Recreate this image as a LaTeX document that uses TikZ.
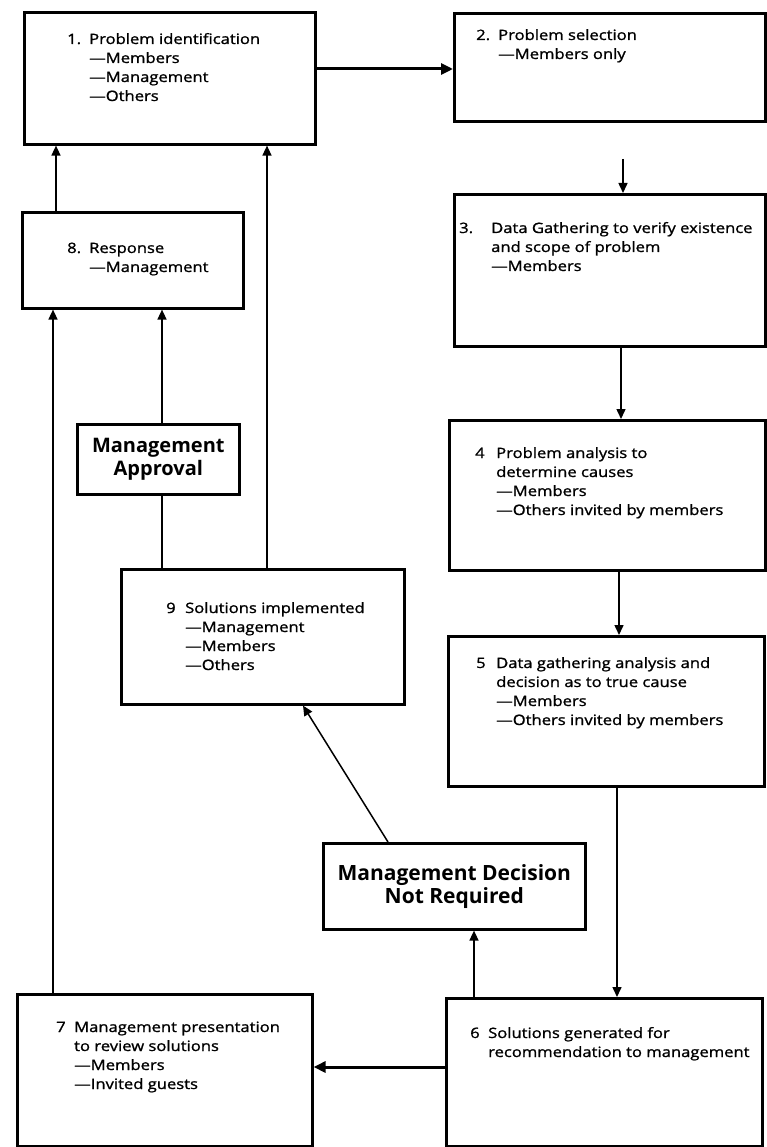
\documentclass[tikz,border=0pt]{standalone}
\usepackage{fontspec}
\setmainfont{Open Sans}
\newfontfamily\stepfont{Open Sans}[FakeBold=1.2, FakeStretch=1.16]
\usetikzlibrary{arrows.meta}
\tikzset{
  stepbox/.style={draw, line width=2.6pt, anchor=north west, inner sep=0pt},
  steptext/.style={anchor=base west, inner sep=0pt, font=\stepfont\fontsize{14.3}{19}\selectfont},
  decisionbox/.style={draw, line width=2.6pt, anchor=north west, inner sep=0pt,
    align=center, font=\bfseries\fontsize{20}{23}\selectfont},
  flow/.style={line width=1.5pt, -{Triangle[length=10pt,width=9pt]}},
  bigflow/.style={line width=3pt, -{Triangle[length=12pt,width=11pt]}},
  link/.style={line width=1.5pt}
}
\newcommand{\steplist}[2]{\begin{tabular}[t]{@{}p{#1}@{}l@{}}#2\end{tabular}}
\begin{document}
\begin{tikzpicture}[x=1pt,y=-1pt]
  \useasboundingbox (0,0) rectangle (766,1147);
  %% boxes
  \node[stepbox, minimum width=291pt, minimum height=132pt] (b1) at (23,11) {};
  \node[stepbox, minimum width=311pt, minimum height=108pt] (b2) at (453,12) {};
  \node[stepbox, minimum width=311pt, minimum height=152pt] (b3) at (453,193) {};
  \node[stepbox, minimum width=316pt, minimum height=150pt] (b4) at (448,419) {};
  \node[stepbox, minimum width=316pt, minimum height=150pt] (b5) at (447,635) {};
  \node[stepbox, minimum width=316pt, minimum height=148pt] (b6) at (445,997) {};
  \node[stepbox, minimum width=295pt, minimum height=152pt] (b7) at (16,993) {};
  \node[stepbox, minimum width=221pt, minimum height=96pt] (b8) at (21,211) {};
  \node[stepbox, minimum width=283pt, minimum height=135pt] (b9) at (120,568) {};
  %% decisions
  \node[decisionbox, minimum width=162pt, minimum height=70pt] (approval) at (76,423)
    {Management\\Approval};
  \node[decisionbox, minimum width=262pt, minimum height=86pt, font=\bfseries\fontsize{21}{23}\selectfont] (noneed) at (322,842)
    {Management Decision\\Not Required};
  %% box texts
  \node[steptext] (t1) at (67,44) {\steplist{22pt}{1. & Problem identification\\ & —Members\\ & —Management\\ & —Others}};
  \node[steptext] (t2) at (476,40) {\steplist{22pt}{2. & Problem selection\\ & —Members only}};
  \node[steptext] (t3) at (459,233) {\steplist{32pt}{3. & Data Gathering to verify existence\\ & and scope of problem\\ & —Members}};
  \node[steptext] (t4) at (475,458) {\steplist{21pt}{4 & Problem analysis to\\ & determine causes\\ & —Members\\ & —Others invited by members}};
  \node[steptext] (t5) at (476,668) {\steplist{20pt}{5 & Data gathering analysis and\\ & decision as to true cause\\ & —Members\\ & —Others invited by members}};
  \node[steptext] (t6) at (470,1038) {\steplist{18pt}{6 & Solutions generated for\\ & recommendation to management}};
  \node[steptext] (t7) at (56,1032) {\steplist{18pt}{7 & Management presentation\\ & to review solutions\\ & —Members\\ & —Invited guests}};
  \node[steptext] (t8) at (67,253) {\steplist{22pt}{8. & Response\\ & —Management}};
  \node[steptext] (t9) at (166,613) {\steplist{19pt}{9 & Solutions implemented\\ & —Management\\ & —Members\\ & —Others}};
  %% connector positions
  \coordinate (c23) at (623,159);
  \coordinate (x34) at (621,0);
  \coordinate (x45) at (619,0);
  \coordinate (x56) at (617,0);
  \coordinate (x6d) at (474,0);
  \coordinate (xd9) at (388,0);
  \coordinate (x9d) at (303,0);
  \coordinate (x81) at (56,0);
  \coordinate (x91) at (267,0);
  \coordinate (x9a) at (162,0);
  \coordinate (x78) at (53,0);
  \coordinate (y12) at (0,69);
  \coordinate (y67) at (0,1067);
  %% connectors
  \draw[bigflow] (b1.east |- y12) -- (b2.west |- y12);
  \draw[flow] (c23) -- (c23 |- b3.north);
  \draw[flow] (b3.south -| x34) -- (b4.north -| x34);
  \draw[flow] (b4.south -| x45) -- (b5.north -| x45);
  \draw[flow] (b5.south -| x56) -- (b6.north -| x56);
  \draw[flow] (b6.north -| x6d) -- (noneed.south -| x6d);
  \draw[flow] (noneed.north -| xd9) -- (b9.south -| x9d);
  \draw[bigflow] (b6.west |- y67) -- (b7.east |- y67);
  \draw[flow] (b7.north -| x78) -- (b8.south -| x78);
  \draw[link] (b9.north -| x9a) -- (approval.south -| x9a);
  \draw[flow] (approval.north -| x9a) -- (b8.south -| x9a);
  \draw[flow] (b9.north -| x91) -- (b1.south -| x91);
  \draw[flow] (b8.north -| x81) -- (b1.south -| x81);
\end{tikzpicture}
\end{document}
